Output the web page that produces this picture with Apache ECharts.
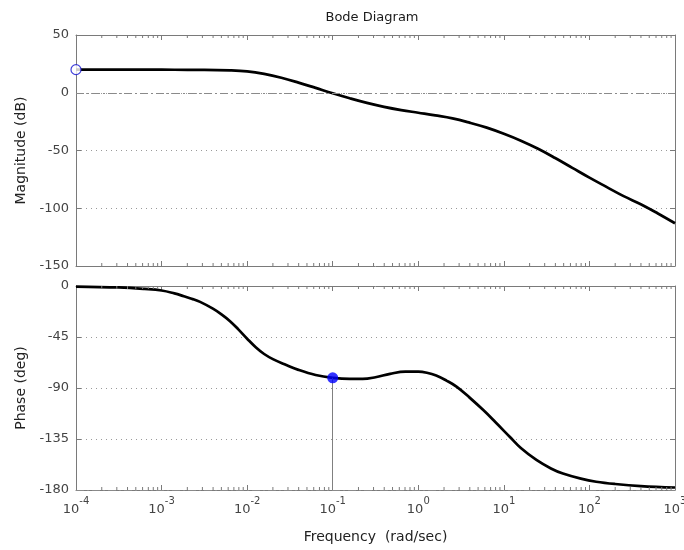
<!DOCTYPE html>
<html>
<head>
<meta charset="utf-8">
<script src="https://cdn.jsdelivr.net/npm/echarts@6.0.0/dist/echarts.min.js"></script>
<style>
html,body{margin:0;padding:0;background:#fff;}
#chart{width:684px;height:550px;}
</style>
</head>
<body>
<div id="chart"></div>
<script>
// ---- data ----
const magFreq = [0.0001, 0.001, 0.002, 0.00316, 0.00631, 0.01, 0.0158, 0.0251, 0.0398, 0.0631, 0.1, 0.158, 0.251, 0.398, 0.631, 1, 1.58, 2.51, 3.98, 6.31, 10, 15.8, 25.1, 39.8, 63.1, 100, 158, 251, 398, 631, 1000];
const magDb   = [20, 20, 19.8, 19.8, 19.4, 18.5, 16.3, 13, 8.8, 4.2, -0.5, -4.8, -8.8, -12.2, -15, -17.3, -19.6, -22.2, -25.9, -30.2, -35.5, -41.5, -48.5, -56.5, -65, -73.5, -81.5, -89.5, -96.5, -104.5, -113];

const phaseFreq = [0.0001, 0.000316, 0.000631, 0.001, 0.00141, 0.00182, 0.00224, 0.00282, 0.00398, 0.00501, 0.00631, 0.00794, 0.01, 0.0126, 0.0158, 0.02, 0.0282, 0.0398, 0.0631, 0.1, 0.158, 0.224, 0.316, 0.468, 0.708, 1, 1.26, 1.62, 2.14, 2.82, 3.98, 5.75, 7.94, 11.7, 15.8, 24, 35.5, 49, 79.4, 120, 200, 398, 1000];
const phaseDeg  = [-0.5, -1.3, -2.6, -4, -6.5, -9, -11.2, -14, -20, -25, -31, -38.5, -46.5, -54, -60, -64.5, -69.5, -74, -78.5, -81, -82, -82, -80.5, -77.5, -75.5, -75.5, -76.5, -79, -83.5, -89, -98.5, -109.5, -120, -133, -143, -153.5, -161, -165.5, -170, -172.7, -174.7, -176.5, -177.8];

const magMarker = [0.0001, 20];
const phaseMarker = [0.1, -81];

const magTicks = [-150, -100, -50, 0, 50];
const phaseTicks = [-180, -135, -90, -45, 0];
const freqRange = [0.0001, 1000];

const titleText = 'Bode Diagram';
const magLabel = 'Magnitude (dB)';
const phaseLabel = 'Phase (deg)';
const freqLabel = 'Frequency  (rad/sec)';

// minor tick positions of the log axis (2..9 x 10^k)
const minorMult = [2, 3, 4, 5, 6, 7, 8, 9];
const decades = [-4, -3, -2, -1, 0, 1, 2];
const minorTicks = [];
decades.forEach(d => minorMult.forEach(m => minorTicks.push([m * Math.pow(10, d), 0])));

// ---- chart ----
const FONT = 'DejaVu Sans';
const AXC = '#7a7a7a';
const grids = [
  {left: 76, top: 35, width: 599, height: 231, outerBoundsMode: 'none', containLabel: false},
  {left: 76, top: 286, width: 599, height: 204, outerBoundsMode: 'none', containLabel: false}
];

function zip(a, b) { return a.map((v, i) => [v, b[i]]); }

function supLabel(v) {
  const e = Math.round(Math.log10(v));
  return '{b|10}{e|' + e + '}';
}

function xAxisDef(gi, pos, showLabel, name) {
  return {
    type: 'log', logBase: 10, gridIndex: gi, position: pos,
    min: freqRange[0], max: freqRange[1],
    axisLine: {show: true, onZero: false, lineStyle: {color: AXC, width: 1}},
    axisTick: {show: true, inside: true, length: 5, lineStyle: {color: AXC}},
    splitLine: {show: false},
    axisLabel: showLabel ? {
      show: true, margin: 6, formatter: supLabel, color: '#444',
      hideOverlap: false,
      rich: {
        b: {fontFamily: FONT, fontSize: 13, color: '#444'},
        e: {fontFamily: FONT, fontSize: 10, color: '#444', padding: [0, 0, 18, 0]}
      }
    } : {show: false},
    name: name || '', nameLocation: 'middle', nameGap: 40,
    nameTextStyle: {fontFamily: FONT, fontSize: 14, color: '#222'}
  };
}

function yAxisDef(gi, pos, ticks, name) {
  const mn = ticks[0], mx = ticks[ticks.length - 1];
  const iv = ticks[1] - ticks[0];
  const left = pos === 'left';
  return {
    type: 'value', gridIndex: gi, position: pos,
    min: mn, max: mx, interval: iv,
    axisLine: {show: true, onZero: false, lineStyle: {color: AXC, width: 1}},
    axisTick: {show: true, inside: true, length: 5, lineStyle: {color: AXC}},
    axisLabel: left ? {show: true, margin: 7, fontFamily: FONT, fontSize: 13, color: '#444'} : {show: false},
    splitLine: left ? {show: true, lineStyle: {color: '#9a9a9a', type: [1, 4], width: 1}} : {show: false},
    name: left ? name : '', nameLocation: 'middle', nameGap: 47,
    nameTextStyle: {fontFamily: FONT, fontSize: 14, color: '#222'}
  };
}

function minorTickSeries(xi, yi) {
  return {
    type: 'custom', xAxisIndex: xi, yAxisIndex: yi, silent: true, z: 5,
    data: minorTicks,
    renderItem: function (params, api) {
      const x = api.coord([api.value(0), api.value(1)])[0];
      const cs = params.coordSys;
      const st = {stroke: AXC, lineWidth: 1};
      return {type: 'group', children: [
        {type: 'line', shape: {x1: x, y1: cs.y, x2: x, y2: cs.y + 3}, style: st},
        {type: 'line', shape: {x1: x, y1: cs.y + cs.height, x2: x, y2: cs.y + cs.height - 3}, style: st}
      ]};
    }
  };
}

const dashDot = [8, 3, 2, 3];

const option = {
  animation: false,
  backgroundColor: '#fff',
  title: {
    text: titleText, left: 367, top: 6, textAlign: 'center',
    textStyle: {fontFamily: FONT, fontSize: 13, fontWeight: 'normal', color: '#1a1a1a'}
  },
  grid: grids,
  xAxis: [
    xAxisDef(0, 'bottom', false),
    xAxisDef(0, 'top', false),
    xAxisDef(1, 'bottom', true, freqLabel),
    xAxisDef(1, 'top', false)
  ],
  yAxis: [
    yAxisDef(0, 'left', magTicks, magLabel),
    yAxisDef(0, 'right', magTicks),
    yAxisDef(1, 'left', phaseTicks, phaseLabel),
    yAxisDef(1, 'right', phaseTicks)
  ],
  series: [
    minorTickSeries(0, 0),
    minorTickSeries(2, 2),
    {
      type: 'line', xAxisIndex: 0, yAxisIndex: 0, data: zip(magFreq, magDb),
      showSymbol: false, symbol: 'none', smooth: 0.4, z: 3,
      lineStyle: {color: '#000', width: 2.7},
      markLine: {
        silent: true, symbol: 'none', label: {show: false},
        lineStyle: {color: '#8a8a8a', type: dashDot, width: 1},
        data: [{yAxis: 0}]
      }
    },
    {
      type: 'line', xAxisIndex: 2, yAxisIndex: 2, data: zip(phaseFreq, phaseDeg),
      showSymbol: false, symbol: 'none', smooth: 0.4, z: 3,
      lineStyle: {color: '#000', width: 2.7},
      markLine: {
        silent: true, symbol: 'none', label: {show: false},
        lineStyle: {color: '#8a8a8a', type: dashDot, width: 1},
        data: [{yAxis: -180}]
      }
    },
    {
      type: 'scatter', xAxisIndex: 0, yAxisIndex: 0, data: [magMarker],
      symbol: 'circle', symbolSize: 10, clip: false, z: 6,
      itemStyle: {color: '#fff', borderColor: '#1010d0', borderWidth: 1.2}
    },
    {
      type: 'scatter', xAxisIndex: 2, yAxisIndex: 2, data: [phaseMarker],
      symbol: 'circle', symbolSize: 11, clip: false, z: 6,
      itemStyle: {color: '#0000ff'},
      markLine: {
        silent: true, symbol: 'none', label: {show: false},
        lineStyle: {color: '#808080', type: 'solid', width: 1},
        data: [[{coord: [phaseMarker[0], phaseMarker[1]]}, {coord: [phaseMarker[0], phaseTicks[0]]}]]
      }
    }
  ]
};

const chart = echarts.init(document.getElementById('chart'), null, {renderer: 'canvas'});
chart.setOption(option);
</script>
</body>
</html>
